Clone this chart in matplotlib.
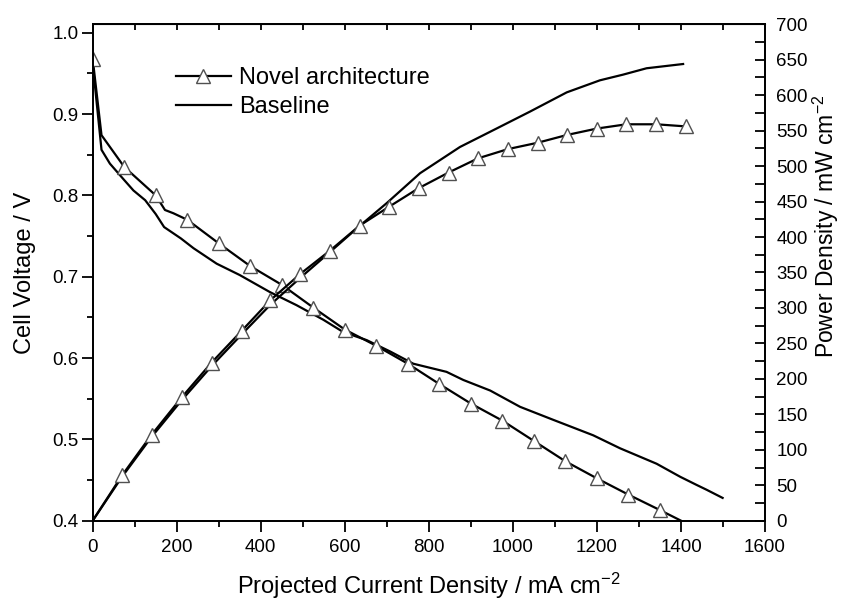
import matplotlib
matplotlib.use("Agg")
import matplotlib.pyplot as plt
from matplotlib.lines import Line2D
from matplotlib.ticker import MultipleLocator

plt.rcParams['font.family'] = ['Liberation Sans', 'DejaVu Sans']
plt.rcParams['mathtext.default'] = 'regular'

# Novel architecture - cell voltage
nov_v_j = [0, 21, 75, 150, 172, 192, 225, 300, 375, 450, 525, 600, 675, 750,
           825, 900, 975, 1050, 1125, 1200, 1275, 1350, 1400]
nov_v = [0.968, 0.874, 0.835, 0.800, 0.782, 0.778, 0.770, 0.741, 0.713, 0.690,
         0.662, 0.635, 0.615, 0.593, 0.568, 0.544, 0.523, 0.498, 0.473, 0.452,
         0.432, 0.413, 0.400]
nov_v_marks = [0, 2, 3] + list(range(6, 22))

# Novel architecture - power density
nov_p_j = [0, 70, 140, 212, 283, 355, 423, 494, 565, 635, 706, 776, 847, 917,
           988, 1059, 1129, 1200, 1270, 1341, 1412]
nov_p = [0, 64, 121, 174, 223, 268, 311, 348, 381, 416, 443, 469, 491, 511,
         524, 533, 544, 553, 559, 559, 556]
nov_p_marks = list(range(1, 21))

# Baseline - cell voltage
base_v_j = [0, 21, 41, 73, 97, 125, 150, 170, 210, 240, 295, 350, 422, 485,
            549, 596, 652, 708, 763, 842, 882, 946, 1017, 1096, 1191, 1255,
            1342, 1398, 1437, 1461, 1499]
base_v = [0.962, 0.856, 0.839, 0.820, 0.806, 0.794, 0.777, 0.761, 0.747, 0.735,
          0.716, 0.702, 0.681, 0.665, 0.647, 0.632, 0.622, 0.608, 0.593, 0.583,
          0.573, 0.560, 0.540, 0.524, 0.505, 0.489, 0.470, 0.454, 0.444, 0.438,
          0.428]

# Baseline - power density
base_p_j = [0, 70, 140, 212, 283, 355, 422, 493, 563, 634, 700, 779, 874, 961,
            1041, 1128, 1207, 1262, 1318, 1405]
base_p = [0, 62, 118, 170, 218, 263, 304, 342, 378, 415, 448, 490, 527, 553,
          577, 604, 621, 629, 638, 644]

tri = dict(marker='^', markersize=9.5, markerfacecolor='white',
           markeredgecolor='#505050', markeredgewidth=1.0)

fig = plt.figure(figsize=(8.41, 6.03), dpi=100)
ax = fig.add_axes([0.1102, 0.1365, 0.7995, 0.8232])
ax2 = ax.twinx()

ax.plot(base_v_j, base_v, color='black', lw=1.6)
ax.plot(nov_v_j, nov_v, color='black', lw=1.6, markevery=nov_v_marks, **tri)
ax2.plot(base_p_j, base_p, color='black', lw=1.6)
ax2.plot(nov_p_j, nov_p, color='black', lw=1.6, markevery=nov_p_marks, **tri)

ax.set_xlim(0, 1600)
ax.set_ylim(0.4, 1.0103)
ax2.set_ylim(0, 700)

ax.xaxis.set_major_locator(MultipleLocator(200))
ax.xaxis.set_minor_locator(MultipleLocator(100))
ax.yaxis.set_major_locator(MultipleLocator(0.1))
ax.yaxis.set_minor_locator(MultipleLocator(0.05))
ax.tick_params(axis='both', which='major', direction='out', length=8, width=1.3,
               labelsize=13.5, top=False, right=False)
ax.tick_params(axis='both', which='minor', direction='out', length=4.5, width=1.3,
               top=False, right=False)
ax.tick_params(axis='x', which='major', pad=5)
ax.tick_params(axis='y', which='major', pad=2)

ax2.yaxis.set_major_locator(MultipleLocator(50))
ax2.yaxis.set_minor_locator(MultipleLocator(25))
ax2.tick_params(axis='y', which='both', direction='in', length=7, width=1.3,
                labelsize=13.5, pad=8)

top = ax.secondary_xaxis('top')
top.xaxis.set_major_locator(MultipleLocator(100))
top.tick_params(direction='in', length=4.5, width=1.3, labeltop=False)

for a in (ax, ax2):
    for s in a.spines.values():
        s.set_linewidth(1.3)

ax.set_xlabel('Projected Current Density / mA cm$^{-2}$', fontsize=17, labelpad=11)
ax.set_ylabel('Cell Voltage / V', fontsize=17, labelpad=12)
fig.text(0.982, 0.625, 'Power Density / mW cm$^{-2}$', fontsize=16.5,
         rotation=90, ha='center', va='center')

handles = [Line2D([], [], color='black', lw=1.6, **tri),
           Line2D([], [], color='black', lw=1.6)]
ax.legend(handles, ['Novel architecture', 'Baseline'], loc='upper left',
          bbox_to_anchor=(0.106, 0.938), frameon=False, fontsize=17,
          handlelength=2.33, handletextpad=0.34, labelspacing=0.32, borderpad=0)

fig.savefig('out.png', dpi=100)
